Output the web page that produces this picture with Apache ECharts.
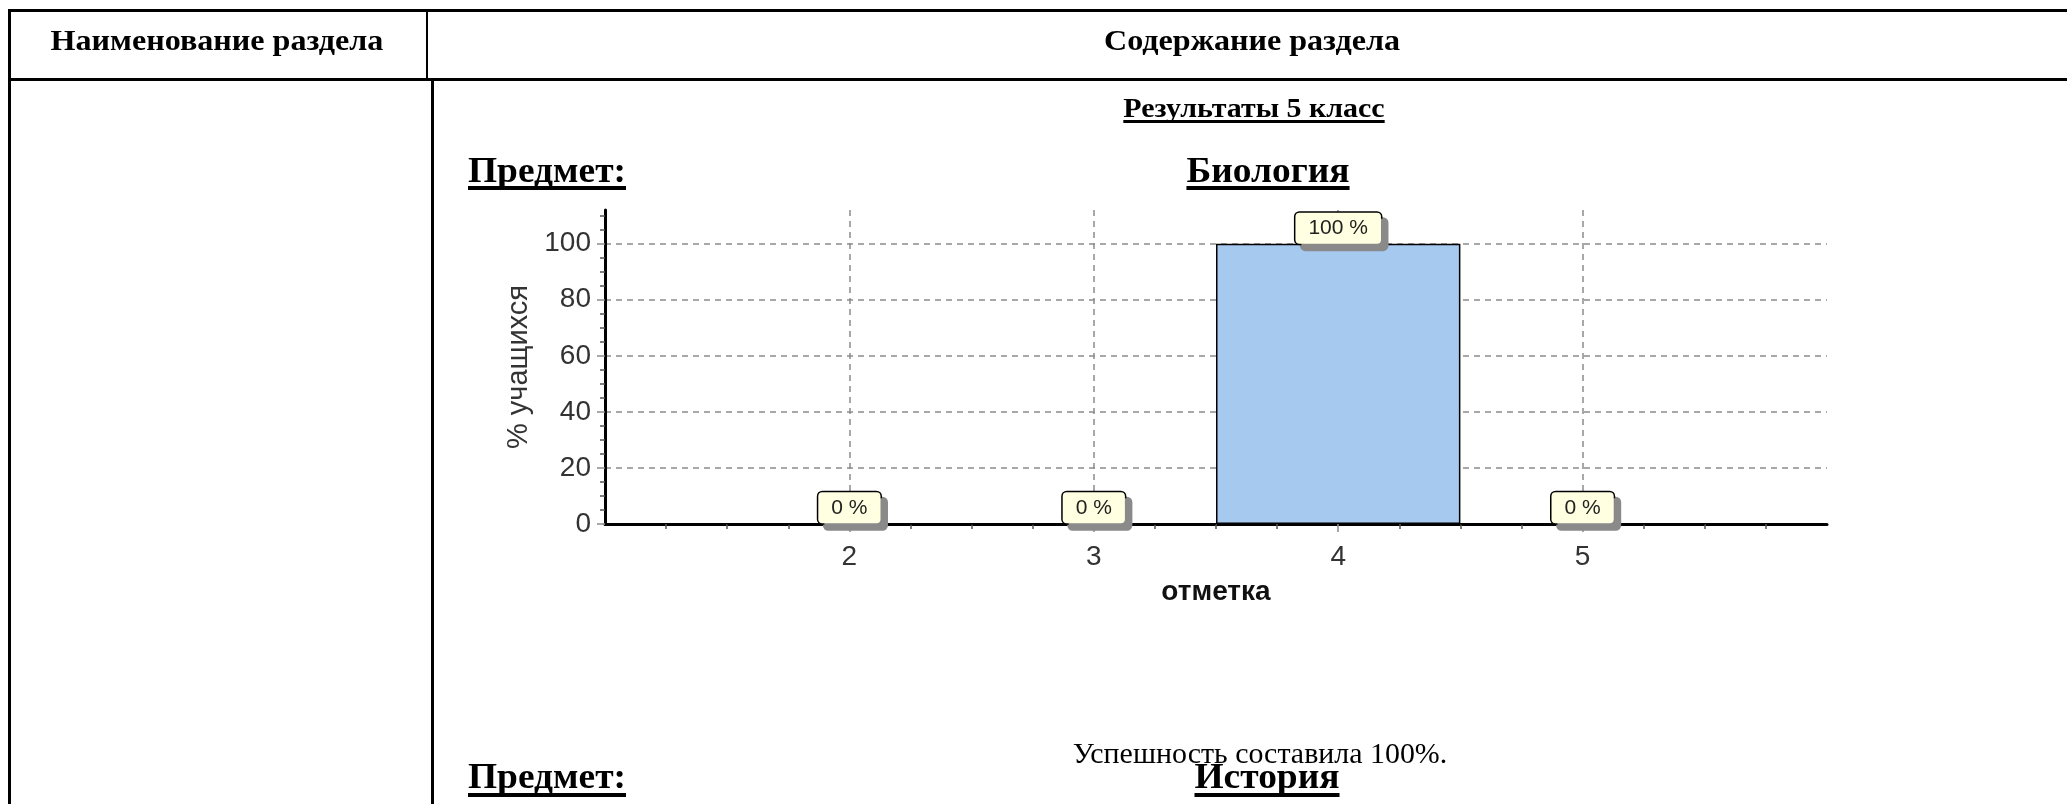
<!DOCTYPE html>
<html>
<head>
<meta charset="utf-8">
<script src="https://cdn.jsdelivr.net/npm/echarts@6/dist/echarts.min.js"></script>
<style>
  html, body { margin: 0; padding: 0; background: #fff; }
  #page { position: relative; width: 2067px; height: 804px; overflow: hidden; background: #fff; }
  #chart { position: absolute; left: 0; top: 0; width: 2067px; height: 804px; }
  .ln { position: absolute; background: #000; }
  .t { position: absolute; white-space: nowrap; font-family: "Liberation Serif", "Times New Roman", serif; color: #000; line-height: 1; }
  .c { width: 1000px; text-align: center; transform-origin: 50% 50%; }
  .l { transform-origin: 0 50%; }
  .u { text-decoration: underline; text-decoration-skip-ink: none; }
  .h { font-size: 36px; font-weight: bold; text-decoration-thickness: 4px; text-underline-offset: 4px; transform: scaleX(1.04); }
</style>
</head>
<body>
<div id="page">
  <div id="chart"></div>
  <!-- table borders -->
  <div class="ln" style="left:8px;top:9px;width:2100px;height:3px"></div>
  <div class="ln" style="left:8px;top:77.5px;width:2100px;height:3px"></div>
  <div class="ln" style="left:8px;top:9px;width:2.5px;height:800px"></div>
  <div class="ln" style="left:425.5px;top:9px;width:2.5px;height:70px"></div>
  <div class="ln" style="left:431px;top:78px;width:2.5px;height:730px"></div>

  <div class="t c" style="left:-283px;top:24.7px;font-size:30px;font-weight:bold;transform:scaleX(1.07)">Наименование раздела</div>
  <div class="t c" style="left:752px;top:24.7px;font-size:30px;font-weight:bold;transform:scaleX(1.07)">Содержание раздела</div>
  <div class="t c u" style="left:754px;top:93.6px;font-size:28px;font-weight:bold;text-decoration-thickness:3px;text-underline-offset:3px;transform:scaleX(1.07)">Результаты 5 класс</div>
  <div class="t l u h" style="left:468px;top:152px">Предмет:</div>
  <div class="t c u h" style="left:768px;top:152px">Биология</div>
  <div class="t c" style="left:760px;top:740px;font-size:28.5px;transform:scaleX(1.05)">Успешность составила 100%.</div>
  <div class="t l u h" style="left:468px;top:758px;text-underline-offset:5px">Предмет:</div>
  <div class="t c u h" style="left:767px;top:758px;text-underline-offset:5px">История</div>
</div>
<script>
// ---- data ----
const categories = [2, 3, 4, 5];          // отметка
const percents   = [0, 0, 100, 0];        // % учащихся
const yTickLabels = [0, 20, 40, 60, 80, 100];
const xTickLabels = [2, 3, 4, 5];

// ---- layout ----
const X_MIN = 1, X_MAX = 6;
const Y_MIN = 0, Y_MAX = 112;
const GRID = { left: 605, top: 210, width: 1222, height: 314 };

const chart = echarts.init(document.getElementById('chart'), null, { renderer: 'canvas' });
const sans = '"Liberation Sans", Arial, sans-serif';
const gridLine = { color: '#8c8c8c', width: 1.5, type: [6, 5] };

const option = {
  animation: false,
  backgroundColor: 'transparent',
  grid: GRID,
  xAxis: {
    type: 'value', min: X_MIN, max: X_MAX, interval: 1,
    axisLine: { onZero: false, lineStyle: { color: '#000', width: 3 } },
    axisTick: { show: true, customValues: xTickLabels, length: 8, lineStyle: { color: '#8c8c8c', width: 1.5 } },
    minorTick: { show: true, splitNumber: 4, length: 5, lineStyle: { color: '#555', width: 1.5 } },
    axisLabel: {
      customValues: xTickLabels,
      formatter: v => String(v),
      fontSize: 28, color: '#333', margin: 19, fontFamily: sans
    },
    splitLine: { show: true, showMinLine: true, showMaxLine: true, lineStyle: gridLine },
    name: 'отметка', nameLocation: 'middle', nameGap: 54,
    nameTextStyle: { fontSize: 28, fontWeight: 'bold', color: '#111', fontFamily: sans }
  },
  yAxis: {
    type: 'value', min: Y_MIN, max: Y_MAX, interval: 20,
    axisLine: { show: true, lineStyle: { color: '#000', width: 3 } },
    axisTick: { show: true, customValues: yTickLabels, length: 8, lineStyle: { color: '#8c8c8c', width: 1.5 } },
    minorTick: { show: true, splitNumber: 4, length: 5, lineStyle: { color: '#555', width: 1.5 } },
    axisLabel: {
      customValues: yTickLabels,
      formatter: v => String(v),
      fontSize: 28, color: '#333', margin: 14, fontFamily: sans
    },
    splitLine: { show: true, showMinLine: false, showMaxLine: true, lineStyle: gridLine },
    name: '% учащихся', nameLocation: 'middle', nameGap: 67,
    nameTextStyle: { fontSize: 29, color: '#333', fontFamily: sans }
  },
  series: [{
    type: 'bar',
    data: categories.map((c, i) => [c, percents[i]]),
    barWidth: GRID.width / (X_MAX - X_MIN),
    itemStyle: { color: '#A6C9EF', borderColor: '#000', borderWidth: 1.5 },
    label: {
      show: true, position: 'top', distance: 0,
      formatter: p => p.value[1] + ' %',
      fontSize: 21, color: '#222', fontFamily: sans,
      backgroundColor: '#FFFFE1', borderColor: '#000', borderWidth: 1.5, borderRadius: 4,
      padding: [5, 13, 5, 13], lineHeight: 21,
      shadowColor: '#8a8a8a', shadowOffsetX: 6, shadowOffsetY: 6, shadowBlur: 0
    }
  }]
};
chart.setOption(option);
</script>
</body>
</html>
